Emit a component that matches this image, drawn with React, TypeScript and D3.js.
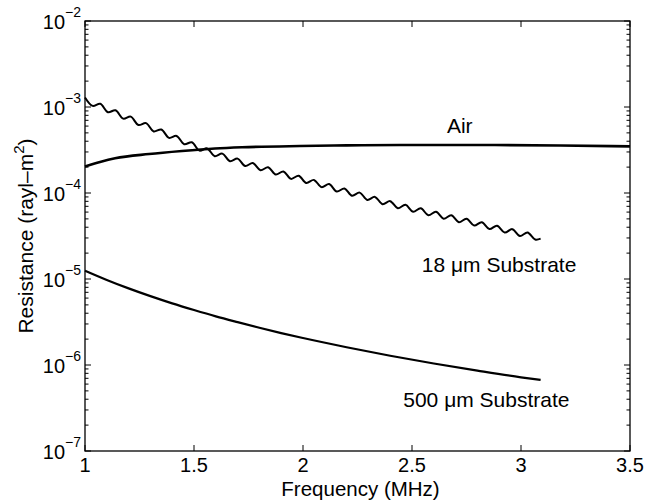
import React from "react";
import * as d3 from "d3";

// 18 um substrate: peaks/troughs of the ripple
const freq18 = [
  1.0, 1.035, 1.07, 1.105, 1.14, 1.175, 1.21, 1.245, 1.28, 1.315, 1.35, 1.385, 1.42, 1.455, 1.49,
  1.525, 1.56, 1.595, 1.63, 1.665, 1.7, 1.735, 1.77, 1.805, 1.84, 1.875, 1.91, 1.945, 1.98, 2.015,
  2.05, 2.085, 2.12, 2.155, 2.19, 2.225, 2.26, 2.295, 2.33, 2.365, 2.4, 2.435, 2.47, 2.505, 2.54,
  2.575, 2.61, 2.645, 2.68, 2.715, 2.75, 2.785, 2.82, 2.855, 2.89, 2.925, 2.96, 2.995, 3.03, 3.065,
  3.09,
];
const res18 = [
  1.29e-3, 1.03e-3, 1.09e-3, 8.7e-4, 9.16e-4, 7.32e-4, 7.72e-4, 6.17e-4, 6.5e-4, 5.2e-4, 5.48e-4,
  4.38e-4, 4.61e-4, 3.69e-4, 3.89e-4, 3.11e-4, 3.3e-4, 2.68e-4, 2.87e-4, 2.34e-4, 2.51e-4, 2.06e-4,
  2.23e-4, 1.84e-4, 1.99e-4, 1.64e-4, 1.78e-4, 1.46e-4, 1.59e-4, 1.31e-4, 1.42e-4, 1.17e-4, 1.27e-4,
  1.04e-4, 1.13e-4, 9.3e-5, 1.01e-4, 8.31e-5, 9.01e-5, 7.42e-5, 8.04e-5, 6.65e-5, 7.28e-5, 6.06e-5,
  6.64e-5, 5.52e-5, 6.05e-5, 5.03e-5, 5.51e-5, 4.58e-5, 5.02e-5, 4.18e-5, 4.58e-5, 3.81e-5, 4.17e-5,
  3.47e-5, 3.8e-5, 3.16e-5, 3.47e-5, 2.88e-5, 2.95e-5,
];

// air
const freqAir = [1.0, 1.069, 1.138, 1.294, 1.445, 1.596, 1.72, 1.986, 2.2, 2.445, 2.81, 3.18, 3.5];
const resAir = [
  2.03e-4, 2.29e-4, 2.53e-4, 2.84e-4, 3.08e-4, 3.29e-4, 3.4e-4, 3.52e-4, 3.58e-4, 3.62e-4, 3.62e-4,
  3.57e-4, 3.48e-4,
];

// 500 um substrate
const freq500 = [1.0, 1.1, 1.2, 1.3, 1.4, 1.5, 1.6, 1.7, 1.8, 1.9, 2.0, 2.2, 2.4, 2.6, 2.8, 3.0, 3.09];
const res500 = [
  1.25e-5, 9.76e-6, 7.78e-6, 6.32e-6, 5.21e-6, 4.36e-6, 3.68e-6, 3.15e-6, 2.71e-6, 2.35e-6, 2.06e-6,
  1.61e-6, 1.28e-6, 1.04e-6, 8.6e-7, 7.19e-7, 6.7e-7,
];

const xTicks = [1, 1.5, 2, 2.5, 3, 3.5];
const xTickLabels = ["1", "1.5", "2", "2.5", "3", "3.5"];
const yExponents = [-2, -3, -4, -5, -6, -7];

const W = 645;
const H = 504;
const margin = { left: 85, right: 15, top: 21, bottom: 53 };

export default function App() {
  const x = d3.scaleLinear().domain([1, 3.5]).range([margin.left, W - margin.right]);
  const y = d3.scaleLog().domain([1e-7, 1e-2]).range([H - margin.bottom, margin.top]);
  const x0 = x.range()[0];
  const x1 = x.range()[1];
  const yTop = y.range()[1];
  const yBot = y.range()[0];

  const minor: number[] = [];
  for (let e = -7; e < -2; e++) {
    for (let m = 2; m <= 9; m++) minor.push(m * Math.pow(10, e));
  }

  const line = (fs: number[], rs: number[], curve: d3.CurveFactory) =>
    d3
      .line<number>()
      .x((_, i) => x(fs[i]))
      .y((d) => y(d))
      .curve(curve)(rs) || "";

  const font = "'Liberation Sans', Arial, Helvetica, sans-serif";

  return (
    <svg
      width={W}
      height={H}
      style={{ position: "absolute", left: 0, top: 0, background: "#fff" }}
      fontFamily={font}
    >
      <rect x={0} y={0} width={W} height={H} fill="#fff" />

      {/* curves */}
      <path d={line(freqAir, resAir, d3.curveMonotoneX)} fill="none" stroke="#000" strokeWidth={2.6} />
      <path d={line(freq18, res18, d3.curveCatmullRom)} fill="none" stroke="#000" strokeWidth={2} />
      <path d={line(freq500, res500, d3.curveMonotoneX)} fill="none" stroke="#000" strokeWidth={2.2} />

      {/* box */}
      <rect x={x0} y={yTop} width={x1 - x0} height={yBot - yTop} fill="none" stroke="#000" strokeWidth={1.3} />

      {/* x ticks */}
      {xTicks.map((t, i) => (
        <g key={"xt" + i}>
          <line x1={x(t)} x2={x(t)} y1={yBot} y2={yBot - 6} stroke="#000" strokeWidth={1} />
          <line x1={x(t)} x2={x(t)} y1={yTop} y2={yTop + 6} stroke="#000" strokeWidth={1} />
          <text x={x(t)} y={yBot + 21} textAnchor="middle" fontSize={20}>
            {xTickLabels[i]}
          </text>
        </g>
      ))}

      {/* y ticks */}
      {yExponents.map((e) => {
        const v = Math.pow(10, e);
        return (
          <g key={"yt" + e}>
            <line x1={x0} x2={x0 + 6} y1={y(v)} y2={y(v)} stroke="#000" strokeWidth={1} />
            <line x1={x1} x2={x1 - 6} y1={y(v)} y2={y(v)} stroke="#000" strokeWidth={1} />
            <text x={x0 - 4} y={y(v) + 8} textAnchor="end" fontSize={20}>
              10
              <tspan dy={-12} fontSize={14}>
                {"\u2212" + Math.abs(e)}
              </tspan>
            </text>
          </g>
        );
      })}
      {minor.map((v, i) => (
        <g key={"ym" + i}>
          <line x1={x0} x2={x0 + 3.5} y1={y(v)} y2={y(v)} stroke="#000" strokeWidth={1} />
          <line x1={x1} x2={x1 - 3.5} y1={y(v)} y2={y(v)} stroke="#000" strokeWidth={1} />
        </g>
      ))}

      {/* axis labels */}
      <text x={(x0 + x1) / 2 + 3} y={496} textAnchor="middle" fontSize={20.5}>
        Frequency (MHz)
      </text>
      <text
        transform={`translate(33,${(yTop + yBot) / 2}) rotate(-90)`}
        textAnchor="middle"
        fontSize={21}
      >
        Resistance (rayl{"\u2013"}m
        <tspan dy={-9} fontSize={15}>
          2
        </tspan>
        <tspan dy={9}>)</tspan>
      </text>

      {/* curve annotations */}
      <text x={x(2.66)} y={y(4.94e-4)} fontSize={21}>
        Air
      </text>
      <text x={x(2.545)} y={y(1.22e-5)} fontSize={21}>
        18 {"\u03bc"}m Substrate
      </text>
      <text x={x(2.46)} y={y(3.22e-7)} fontSize={21}>
        500 {"\u03bc"}m Substrate
      </text>
    </svg>
  );
}
